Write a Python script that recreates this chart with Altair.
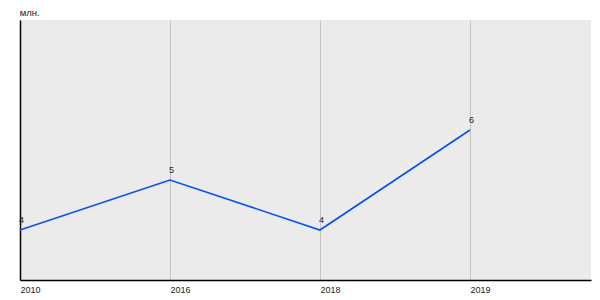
import altair as alt
import pandas as pd

years = ["2010", "2016", "2018", "2019"]
values = [4, 5, 4, 6]
idx = list(range(len(years)))

df = pd.DataFrame({"i": idx, "year": years, "v": values})

label_expr = "[" + ",".join(f"'{y}'" for y in years) + "][datum.value] || ''"

x = alt.X("i:Q", scale=alt.Scale(domain=[0, 3.807], nice=False, zero=False),
          axis=alt.Axis(values=idx, labelExpr=label_expr, title=None, ticks=False,
                        labelAlign="left", labelPadding=5, labelFontSize=9,
                        labelColor="#222", labelFont="Liberation Sans",
                        grid=True, gridColor="#c4c4c4", gridWidth=1,
                        domainColor="#000", domainWidth=1.5))
y = alt.Y("v:Q", scale=alt.Scale(domain=[3, 8.2], nice=False, zero=False),
          axis=alt.Axis(title=None, labels=False, ticks=False, grid=False,
                        domainColor="#000", domainWidth=1.5))

base = alt.Chart(df).encode(x=x, y=y)
line = base.mark_line(color="#0a4ff0", strokeWidth=1.6)
text = base.mark_text(align="left", baseline="bottom", dx=-1, dy=-5, fontSize=9,
                      font="Liberation Sans", color="#222").encode(text="v:Q")

chart = (line + text).properties(
    width=571, height=260,
    background="white",
    autosize=alt.AutoSizeParams(type="none"),
    padding={"left": 20, "top": 20, "right": 9, "bottom": 20},
    title=alt.TitleParams("млн.", anchor="start", fontSize=9.5, fontWeight="normal",
                          font="Liberation Sans", color="#222", offset=3, dx=3),
).configure_view(fill="#ebebeb", stroke=None)

chart.save("out.html", embed_options={"renderer": "svg", "actions": False})
